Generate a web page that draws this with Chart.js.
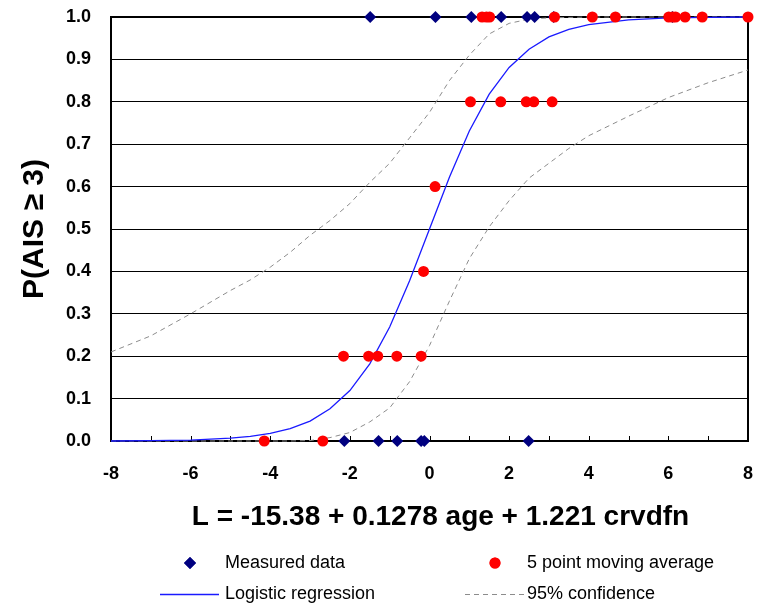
<!DOCTYPE html>
<html>
<head>
<meta charset="utf-8">
<script src="https://cdn.jsdelivr.net/npm/chart.js@4.4.0/dist/chart.umd.min.js"></script>
<style>
  html, body { margin: 0; padding: 0; background: #fff; }
  #wrap { width: 757px; height: 607px; }
</style>
</head>
<body>
<div id="wrap"><canvas id="aisChart" width="757" height="607"></canvas></div>
<script>
// Measured outcomes (1 = AIS >= 3, 0 = AIS < 3) against the logit L
const measuredL = [-1.49, 0.15, 1.05, 1.80, 2.45, 2.64, 3.12, 6.10, -2.14, -1.28, -0.81, -0.21, -0.13, 2.49];
const measuredP = [1, 1, 1, 1, 1, 1, 1, 1, 0, 0, 0, 0, 0, 0];

// 5 point moving average
const movingL = [-4.15, -2.68, -2.16, -1.53, -1.30, -0.82, -0.21, -0.15, 0.14,
  1.03, 1.79, 2.43, 2.62, 3.08, 1.32, 1.43, 1.51, 3.14, 4.09, 4.67, 6.01, 6.11, 6.18, 6.42, 6.85, 8.00];
const movingP = [0, 0, 0.2, 0.2, 0.2, 0.2, 0.2, 0.4, 0.6,
  0.8, 0.8, 0.8, 0.8, 0.8, 1, 1, 1, 1, 1, 1, 1, 1, 1, 1, 1, 1];

// Fitted curve and 95% confidence band
const curveL = [-8, -7, -6, -5, -4.5, -4, -3.5, -3, -2.5, -2, -1.5, -1, -0.5, 0,
  0.5, 1, 1.5, 2, 2.5, 3, 3.5, 4, 5, 6, 7, 8];
const logisticP = [0.000, 0.001, 0.002, 0.007, 0.011, 0.018, 0.029, 0.047, 0.076, 0.119, 0.182, 0.269, 0.378, 0.500,
  0.622, 0.731, 0.818, 0.881, 0.924, 0.953, 0.971, 0.982, 0.993, 0.998, 0.999, 1.000];
const upperP = [0.210, 0.248, 0.300, 0.355, 0.380, 0.410, 0.445, 0.485, 0.520, 0.560, 0.610, 0.655, 0.715, 0.775,
  0.850, 0.910, 0.960, 0.985, 0.995, 0.998, 0.999, 1.000, 1.000, 1.000, 1.000, 1.000];
const lowerP = [0.000, 0.000, 0.000, 0.000, 0.000, 0.000, 0.000, 0.001, 0.008, 0.020, 0.045, 0.078, 0.140, 0.225,
  0.330, 0.430, 0.505, 0.567, 0.620, 0.655, 0.690, 0.720, 0.766, 0.810, 0.845, 0.875];

const xTitle = "L = -15.38 + 0.1278 age + 1.221 crvdfn";
const yTitle = "P(AIS \u2265 3)";
const FONT = "Arial, 'Liberation Sans', sans-serif";

const toPoints = (xs, ys) => xs.map((x, i) => ({ x: x, y: ys[i] }));

// right border and the small inward ticks along the x axis
const frameTicks = {
  id: "frameTicks",
  beforeDatasetsDraw(chart) {
    const { ctx, chartArea, scales } = chart;
    ctx.save();
    ctx.strokeStyle = "#000";
    ctx.lineWidth = 2;
    ctx.beginPath();
    ctx.moveTo(chartArea.right, chartArea.top - 1);
    ctx.lineTo(chartArea.right, chartArea.bottom + 1);
    ctx.stroke();
    ctx.lineWidth = 1;
    scales.x.ticks.forEach((t) => {
      const px = Math.round(scales.x.getPixelForValue(t.value)) + 0.5;
      ctx.beginPath();
      ctx.moveTo(px, chartArea.bottom);
      ctx.lineTo(px, chartArea.bottom - 5);
      ctx.stroke();
    });
    ctx.restore();
  },
};

// axis titles plus a two column legend under the plot
const titlesLegend = {
  id: "titlesLegend",
  afterDraw(chart) {
    const { ctx, chartArea } = chart;
    ctx.save();
    ctx.fillStyle = "#000";
    ctx.textAlign = "center";
    ctx.textBaseline = "middle";
    ctx.font = "bold 28px " + FONT;
    ctx.fillText(xTitle, (chartArea.left + chartArea.right) / 2 + 11, chartArea.bottom + 76);

    ctx.save();
    ctx.translate(35, (chartArea.top + chartArea.bottom) / 2);
    ctx.rotate(-Math.PI / 2);
    ctx.font = "bold 30px " + FONT;
    ctx.fillText(yTitle, 0, 0);
    ctx.restore();

    const cols = [190, 495];
    const textX = [225, 527];
    const rows = [563, 594];
    ctx.font = "18px " + FONT;
    ctx.textAlign = "left";
    chart.data.datasets.slice(0, 4).forEach((ds, i) => {
      const cx = cols[i % 2];
      const cy = rows[Math.floor(i / 2)];
      if (ds.showLine) {
        ctx.save();
        ctx.strokeStyle = ds.borderColor;
        ctx.lineWidth = ds.borderWidth;
        ctx.setLineDash(ds.borderDash || []);
        ctx.beginPath();
        ctx.moveTo(cx - 30, cy + 0.5);
        ctx.lineTo(cx + 29, cy + 0.5);
        ctx.stroke();
        ctx.restore();
      } else {
        ctx.fillStyle = ds.backgroundColor;
        Chart.helpers.drawPoint(ctx, {
          pointStyle: ds.pointStyle,
          radius: ds.pointRadius,
          borderWidth: 0,
          rotation: 0,
        }, cx, cy);
        ctx.fill();
      }
      ctx.fillStyle = "#000";
      ctx.fillText(ds.label, textX[i % 2], cy);
    });
    ctx.restore();
  },
};

const aisChartContext = document.getElementById("aisChart").getContext("2d");

const aisChart = new Chart(aisChartContext, {
  type: "scatter",
  data: {
    datasets: [
      {
        label: "Measured data",
        data: toPoints(measuredL, measuredP),
        pointStyle: "rectRot",
        pointRadius: 6,
        backgroundColor: "#000080",
        borderColor: "#000080",
        borderWidth: 0,
        clip: false,
        order: 1,
      },
      {
        label: "5 point moving average",
        data: toPoints(movingL, movingP),
        pointStyle: "circle",
        pointRadius: 5.5,
        backgroundColor: "#ff0000",
        borderColor: "#ff0000",
        borderWidth: 0,
        clip: false,
        order: 0,
      },
      {
        label: "Logistic regression",
        data: toPoints(curveL, logisticP),
        showLine: true,
        pointRadius: 0,
        borderColor: "#1a1aff",
        borderWidth: 1.3,
        clip: false,
        order: 2,
      },
      {
        label: "95% confidence",
        data: toPoints(curveL, upperP),
        showLine: true,
        pointRadius: 0,
        borderColor: "#8c8c8c",
        borderWidth: 1,
        borderDash: [5, 4],
        clip: false,
        order: 3,
      },
      {
        label: "95% confidence",
        data: toPoints(curveL, lowerP),
        showLine: true,
        pointRadius: 0,
        borderColor: "#8c8c8c",
        borderWidth: 1,
        borderDash: [5, 4],
        clip: false,
        order: 3,
      },
    ],
  },
  options: {
    responsive: false,
    animation: false,
    devicePixelRatio: 1,
    layout: { autoPadding: false, padding: { left: 0, right: 9, top: 17, bottom: 0 } },
    plugins: {
      legend: { display: false },
      tooltip: { enabled: false },
    },
    scales: {
      x: {
        type: "linear",
        min: -8,
        max: 8,
        afterFit: (scale) => {
          scale.height = 166;
          scale.paddingLeft = 0;
          scale.paddingRight = 0;
        },
        grid: { display: false, drawTicks: false },
        border: { display: true, color: "#000", width: 2 },
        ticks: {
          stepSize: 1,
          autoSkip: false,
          maxRotation: 0,
          padding: 22,
          color: "#000",
          font: { family: FONT, size: 18, weight: "bold" },
          callback: (v) => (v % 2 === 0 ? String(v) : ""),
        },
      },
      y: {
        type: "linear",
        min: 0,
        max: 1,
        afterFit: (scale) => {
          scale.width = 111;
          scale.paddingTop = 0;
          scale.paddingBottom = 0;
        },
        grid: {
          color: "#000",
          lineWidth: (c) => (c.tick && c.tick.value === 1 ? 2 : 1),
          drawTicks: false,
        },
        border: { display: true, color: "#000", width: 2 },
        ticks: {
          stepSize: 0.1,
          padding: 20,
          color: "#000",
          font: { family: FONT, size: 18, weight: "bold" },
          callback: (v) => v.toFixed(1),
        },
      },
    },
  },
  plugins: [frameTicks, titlesLegend],
});
</script>
</body>
</html>
